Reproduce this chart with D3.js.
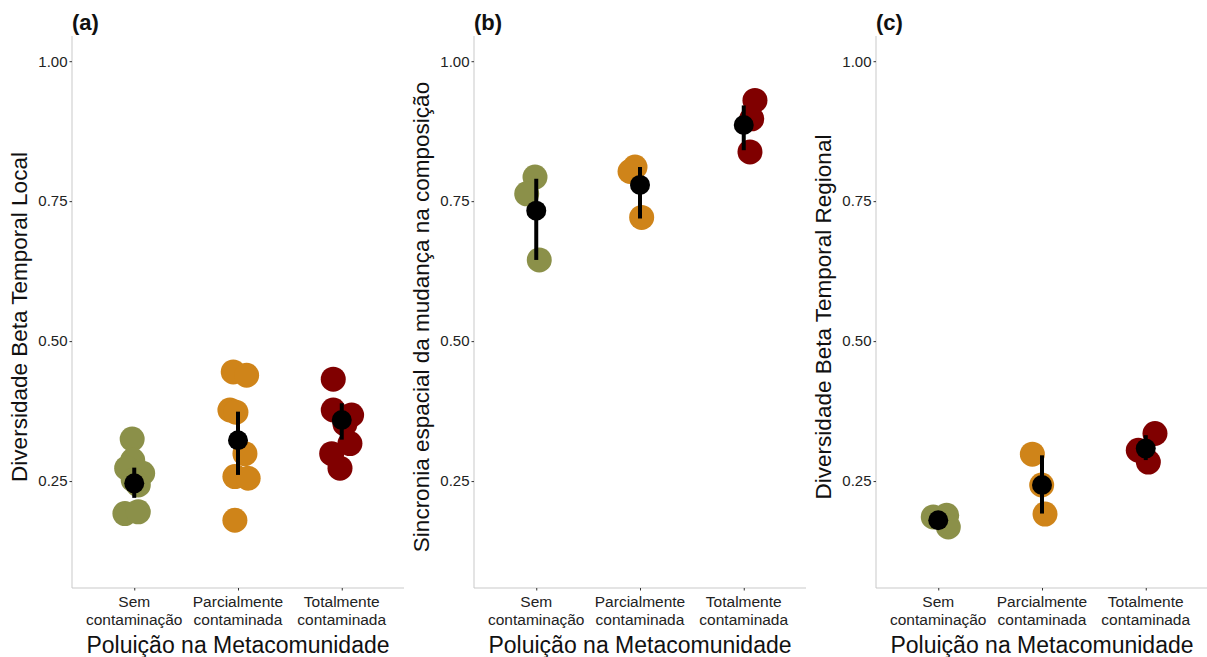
<!DOCTYPE html>
<html>
<head>
<meta charset="utf-8">
<script src="https://cdn.jsdelivr.net/npm/d3@7"></script>
<style>
  html, body { margin: 0; padding: 0; background: #fff; }
  svg { display: block; font-family: "Liberation Sans", Arial, sans-serif; }
</style>
</head>
<body>
<svg id="chart" width="1207" height="657"></svg>
<script>
// Pollution treatments (x categories), two-line labels
const categories = ["Sem contaminação", "Parcialmente contaminada", "Totalmente contaminada"];
const categoryLines = [["Sem", "contaminação"], ["Parcialmente", "contaminada"], ["Totalmente", "contaminada"]];
const categoryColors = ["#8b9049", "#cf8419", "#800000"];

const yTicks = [0.25, 0.50, 0.75, 1.00];
const yDomain = [0.059, 1.045];

const panelTags = ["(a)", "(b)", "(c)"];
const yTitles = [
  "Diversidade Beta Temporal Local",
  "Sincronia espacial da mudança na composição",
  "Diversidade Beta Temporal Regional"
];
const xTitle = "Poluição na Metacomunidade";

// (a) local temporal beta diversity: observations per treatment
const localValues = [
  [0.325, 0.287, 0.273, 0.264, 0.252, 0.243, 0.192, 0.195],
  [0.445, 0.439, 0.377, 0.373, 0.299, 0.258, 0.255, 0.180],
  [0.432, 0.377, 0.368, 0.352, 0.317, 0.299, 0.273]
];
const localJitter = [
  [-0.020, -0.015, -0.073, 0.081, -0.010, 0.039, -0.090, 0.039],
  [-0.046, 0.083, -0.078, -0.020, 0.067, -0.030, 0.098, -0.030],
  [-0.082, -0.082, 0.095, 0.031, 0.079, -0.097, -0.017]
];
const localMean = [0.246, 0.323, 0.359];
const localLow  = [0.220, 0.261, 0.324];
const localHigh = [0.274, 0.374, 0.389];

// (b) spatial synchrony of compositional change
const syncValues = [
  [0.793, 0.763, 0.645],
  [0.811, 0.803, 0.721],
  [0.930, 0.897, 0.838]
];
const syncJitter = [
  [-0.012, -0.092, 0.029],
  [-0.048, -0.096, 0.016],
  [0.108, 0.077, 0.060]
];
const syncMean = [0.733, 0.779, 0.886];
const syncLow  = [0.645, 0.719, 0.841];
const syncHigh = [0.790, 0.811, 0.921];

// (c) regional temporal beta diversity
const regionalValues = [
  [0.186, 0.189, 0.168],
  [0.298, 0.243, 0.191],
  [0.335, 0.305, 0.284]
];
const regionalJitter = [
  [-0.048, 0.081, 0.097],
  [-0.093, -0.003, 0.029],
  [0.089, -0.072, 0.025]
];
const regionalMean = [0.180, 0.243, 0.308];
const regionalLow  = [0.176, 0.192, 0.2875];
const regionalHigh = [0.184, 0.296, 0.332];

const panels = [
  { values: localValues, jitter: localJitter, mean: localMean, low: localLow, high: localHigh },
  { values: syncValues, jitter: syncJitter, mean: syncMean, low: syncLow, high: syncHigh },
  { values: regionalValues, jitter: regionalJitter, mean: regionalMean, low: regionalLow, high: regionalHigh }
];

const svg = d3.select("#chart");
const panelStep = 402;
const plotLeft = 72, plotWidth = 332, plotTop = 36, plotBottom = 588;
const axisGrey = "#c9c9c9";

const y = d3.scaleLinear().domain(yDomain).range([plotBottom, plotTop]);

panels.forEach((p, pi) => {
  const x0 = plotLeft + pi * panelStep;
  const x = d3.scalePoint().domain(categories).range([x0, x0 + plotWidth]).padding(0.6);
  const step = x.step();
  const g = svg.append("g");

  // y axis
  const yAxis = g.append("g")
    .attr("transform", `translate(${x0},0)`)
    .call(d3.axisLeft(y).tickValues(yTicks).tickFormat(d3.format(".2f")).tickSize(2.5).tickPadding(2));
  yAxis.select(".domain").attr("stroke", axisGrey).attr("d", `M0,${plotTop}V${plotBottom}`);
  yAxis.selectAll(".tick line").attr("stroke", "#333").attr("stroke-width", 1);
  yAxis.selectAll(".tick text").attr("fill", "#222").style("font-size", "15px")
    .style("font-family", "'Liberation Sans', Arial, sans-serif");

  // x axis
  const xAxis = g.append("g")
    .attr("transform", `translate(0,${plotBottom})`)
    .call(d3.axisBottom(x).tickSize(2.5).tickFormat(""));
  xAxis.select(".domain").attr("stroke", axisGrey).attr("d", `M${x0},0H${x0 + plotWidth}`);
  xAxis.selectAll(".tick line").attr("stroke", "#333");

  categories.forEach((c, ci) => {
    const t = g.append("text")
      .attr("x", x(c)).attr("y", plotBottom + 19)
      .attr("text-anchor", "middle")
      .style("font-size", "15.5px").attr("fill", "#222");
    categoryLines[ci].forEach((line, li) => {
      t.append("tspan").attr("x", x(c)).attr("dy", li === 0 ? 0 : 17.5).text(line);
    });
  });

  // titles
  g.append("text")
    .attr("x", x0 + plotWidth / 2).attr("y", 653)
    .attr("text-anchor", "middle").style("font-size", "23px").attr("fill", "#111")
    .text(xTitle);

  g.append("text")
    .attr("transform", `translate(${x0 - 45},${(plotTop + plotBottom) / 2 + 5}) rotate(-90)`)
    .attr("text-anchor", "middle").style("font-size", "22.5px").attr("fill", "#111")
    .text(yTitles[pi]);

  g.append("text")
    .attr("x", x0).attr("y", 30)
    .style("font-size", "22px").style("font-weight", "bold").attr("fill", "#111")
    .text(panelTags[pi]);

  // observations
  categories.forEach((c, ci) => {
    const pts = p.values[ci].map((v, k) => ({ v, j: p.jitter[ci][k] }));
    g.append("g").selectAll("circle").data(pts).join("circle")
      .attr("cx", d => x(c) + d.j * step)
      .attr("cy", d => y(d.v))
      .attr("r", 12.5)
      .attr("fill", categoryColors[ci]);
  });

  // mean with interval
  categories.forEach((c, ci) => {
    g.append("line")
      .attr("x1", x(c)).attr("x2", x(c))
      .attr("y1", y(p.low[ci])).attr("y2", y(p.high[ci]))
      .attr("stroke", "#000").attr("stroke-width", 4);
    g.append("circle")
      .attr("cx", x(c)).attr("cy", y(p.mean[ci]))
      .attr("r", 10).attr("fill", "#000");
  });
});
</script>
</body>
</html>
